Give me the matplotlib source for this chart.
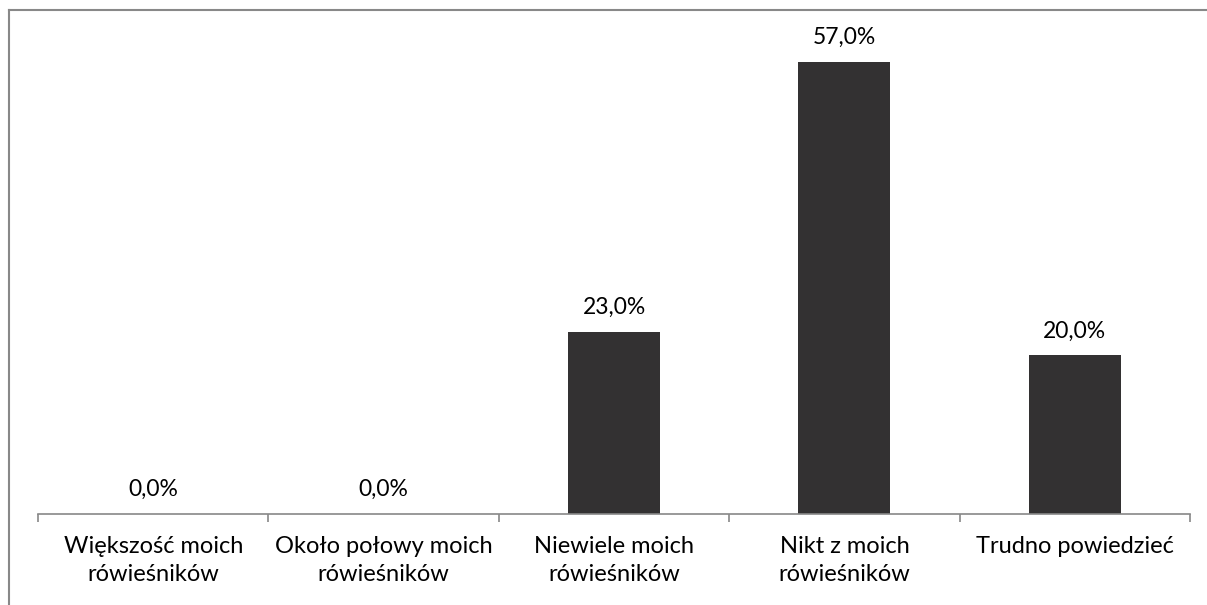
import matplotlib
matplotlib.use("Agg")
import matplotlib.pyplot as plt
from matplotlib.lines import Line2D

categories = ["Większość moich\nrówieśników", "Około połowy moich\nrówieśników",
              "Niewiele moich\nrówieśników", "Nikt z moich\nrówieśników", "Trudno powiedzieć"]
values = [0.0, 0.0, 23.0, 57.0, 20.0]
value_labels = ["0,0%", "0,0%", "23,0%", "57,0%", "20,0%"]

W, H = 1207, 605
fig = plt.figure(figsize=(W / 100, H / 100), dpi=100)
plt.rcParams['font.family'] = ['Lato', 'DejaVu Sans']

left, right, bottom, top = 38, 1190, 514, 20
ax = fig.add_axes([left / W, 1 - bottom / H, (right - left) / W, (bottom - top) / H])
ppu = (514 - 62) / 57.0
ax.set_ylim(0, (bottom - top) / ppu)
ax.set_xlim(-0.5, len(categories) - 0.5)

x = list(range(len(categories)))
ax.bar(x, values, width=0.4, color="#333132")
for xi, v, lab in zip(x, values, value_labels):
    ax.annotate(lab, (xi, v), xytext=(0, 10), textcoords="offset points",
                ha="center", va="bottom", fontsize=16.5, color="black")

for s in ["top", "right", "left"]:
    ax.spines[s].set_visible(False)
ax.spines["bottom"].set_color("#888888")
ax.spines["bottom"].set_linewidth(1.2)
ax.set_yticks([])
ax.set_xticks([i - 0.5 for i in range(len(categories) + 1)])
ax.set_xticklabels([])
ax.tick_params(axis="x", length=6, width=1.2, color="#888888")
for xi, c in zip(x, categories):
    ax.text(xi, -0.045, c, transform=ax.get_xaxis_transform(), ha="center", va="top",
            fontsize=17, linespacing=1.4)

# figure border lines (left and top)
fig.add_artist(Line2D([9 / W, 9 / W], [0, 1 - 9.5 / H], transform=fig.transFigure,
                      color="#888888", lw=1.5))
fig.add_artist(Line2D([9 / W, 1], [1 - 9.5 / H, 1 - 9.5 / H], transform=fig.transFigure,
                      color="#888888", lw=1.5))

fig.savefig("out.png", dpi=100, facecolor="white")
